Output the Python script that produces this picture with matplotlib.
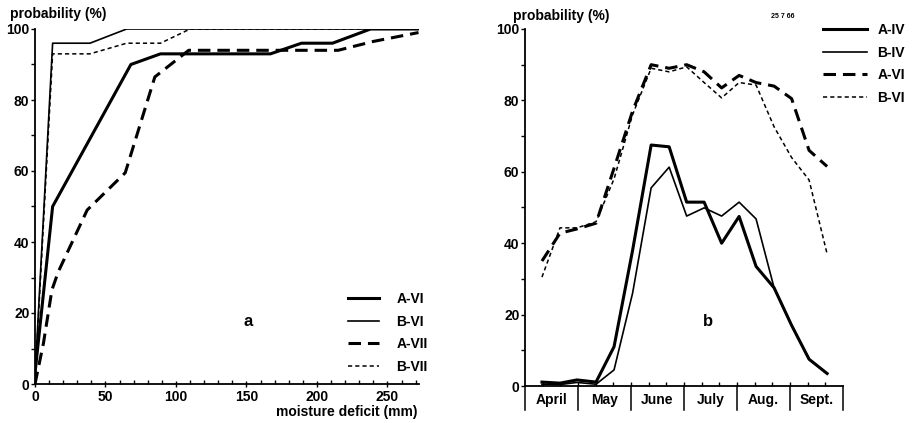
import matplotlib
matplotlib.use("Agg")
import matplotlib.pyplot as plt
from matplotlib.lines import Line2D

# panel a: cumulative probability vs moisture deficit (mm)
a_vi_x = [0, 12.5, 68, 89, 167, 189, 211, 238, 272]
a_vi_y = [3, 50, 90, 93, 93, 96, 96, 100, 100]
b_vi_x = [0, 12.5, 39, 65, 272]
b_vi_y = [2, 96, 96, 100, 100]
a_vii_x = [0, 6, 12, 16.5, 37, 64, 85, 109, 215, 240, 272]
a_vii_y = [0, 11.5, 26.5, 31.6, 49, 59.5, 86.5, 94, 94, 96.5, 99]
b_vii_x = [0, 12.5, 39, 65, 89, 110, 272]
b_vii_y = [1, 93, 93, 96, 96, 100, 100]

# panel b: ten-day periods, position in months counted from 1 April
period_pos = [0.32, 0.66, 0.98, 1.34, 1.68, 2.03, 2.38, 2.72, 3.05,
              3.38, 3.71, 4.04, 4.36, 4.70, 5.03, 5.36, 5.70]
a_iv = [1.1, 0.8, 1.7, 1.1, 11, 38, 67.5, 67, 51.5, 51.5, 40, 47.5, 33.5, 27.5, 17, 7.5, 3.5]
b_iv = [0.5, 0.4, 1.0, 0.5, 4.5, 26, 55.5, 61.3, 47.6, 49.9, 47.6, 51.5, 46.8, 27.5, 17, 7.5, 3.5]
a_vi_b = [35, 42.8, 44, 45.6, 61, 77, 90, 89, 90, 88, 83.5, 87, 85, 84, 80.5, 66, 61.5]
b_vi_b = [30.5, 44.3, 44.3, 46, 58, 76, 89, 88, 89.4, 85, 80.7, 85, 84.3, 72.6, 64, 57.7, 37]
months = ["April", "May", "June", "July", "Aug.", "Sept."]

plt.rcParams['font.family'] = ['Liberation Sans', 'DejaVu Sans']
plt.rcParams['font.weight'] = 'bold'
plt.rcParams['lines.scale_dashes'] = False

thick = dict(color='black', lw=2.2)
thin = dict(color='black', lw=1.2)
long_dash = dict(color='black', lw=2.2, dashes=(9, 5))
short_dash = dict(color='black', lw=1.1, dashes=(3, 2.2))

fig = plt.figure(figsize=(9.18, 4.23), dpi=100)
ax1 = fig.add_axes([35 / 918, 1 - 384 / 423, 383.5 / 918, 355 / 423])
ax2 = fig.add_axes([525 / 918, 1 - 386 / 423, 318 / 918, 357 / 423])

for ax in (ax1, ax2):
    ax.spines['top'].set_visible(False)
    ax.spines['right'].set_visible(False)
    ax.spines['left'].set_linewidth(1.3)
    ax.spines['bottom'].set_linewidth(1.3)
    ax.set_ylim(0, 100)
    ax.set_yticks(range(0, 101, 20))
    ax.set_yticks(range(10, 100, 20), minor=True)
    ax.tick_params(axis='y', which='both', direction='out', length=3, width=1, pad=1, labelsize=10)

# ---- panel a
ax1.plot(a_vi_x, a_vi_y, **thick)
ax1.plot(b_vi_x, b_vi_y, **thin)
ax1.plot(a_vii_x, a_vii_y, **long_dash)
ax1.plot(b_vii_x, b_vii_y, **short_dash)
ax1.set_xlim(0, 272)
ax1.set_xticks(range(0, 251, 50))
ax1.set_xticks(range(10, 272, 10), minor=True)
ax1.tick_params(axis='x', which='major', direction='inout', length=5, width=1, pad=2, labelsize=10)
ax1.tick_params(axis='x', which='minor', direction='in', length=3, width=1)
ax1.text(151, 17.5, 'a', fontsize=12, ha='center', va='center')

handles_a = [Line2D([], [], **thick), Line2D([], [], **thin),
             Line2D([], [], **long_dash), Line2D([], [], **short_dash)]
ax1.legend(handles_a, ['A-VI', 'B-VI', 'A-VII', 'B-VII'], loc='upper left',
           bbox_to_anchor=(348 / 918, 1 - 292 / 423), bbox_transform=fig.transFigure,
           frameon=False, borderpad=0, borderaxespad=0, handlelength=2.2,
           handletextpad=1.3, labelspacing=0.62, fontsize=10)

# ---- panel b
ax2.plot(period_pos, a_iv, **thick)
ax2.plot(period_pos, b_iv, **thin)
ax2.plot(period_pos, a_vi_b, **long_dash)
ax2.plot(period_pos, b_vi_b, **short_dash)
ax2.set_xlim(0, 6)
ax2.set_xticks([])
ax2.set_xticks([i / 3 for i in range(1, 18)], minor=True)
ax2.tick_params(axis='x', which='minor', direction='in', length=3, width=1)
for i, name in enumerate(months):
    ax2.plot([i, i], [0, -6.7], color='black', lw=1.1, clip_on=False)
    ax2.text(i + 0.5, -4, name, ha='center', va='center', fontsize=10)
ax2.plot([6, 6], [0, -6.7], color='black', lw=1.1, clip_on=False)
ax2.text(3.46, 18, 'b', fontsize=12, ha='center', va='center')

handles_b = [Line2D([], [], **thick), Line2D([], [], **thin),
             Line2D([], [], **long_dash), Line2D([], [], **short_dash)]
ax2.legend(handles_b, ['A-IV', 'B-IV', 'A-VI', 'B-VI'], loc='upper left',
           bbox_to_anchor=(823 / 918, 1 - 23 / 423), bbox_transform=fig.transFigure,
           frameon=False, borderpad=0, borderaxespad=0, handlelength=3.2,
           handletextpad=0.7, labelspacing=0.62, fontsize=10)

# ---- labels
fig.text(10 / 918, 1 - 14 / 423, 'probability (%)', fontsize=10, va='center')
fig.text(513 / 918, 1 - 16 / 423, 'probability (%)', fontsize=10, va='center')
fig.text(418 / 918, 1 - 412 / 423, 'moisture deficit (mm)', fontsize=10, ha='right', va='center')
fig.text(783 / 918, 1 - 17 / 423, '25 7 66', fontsize=5, ha='center', va='center')

fig.savefig('out.png', dpi=100)
